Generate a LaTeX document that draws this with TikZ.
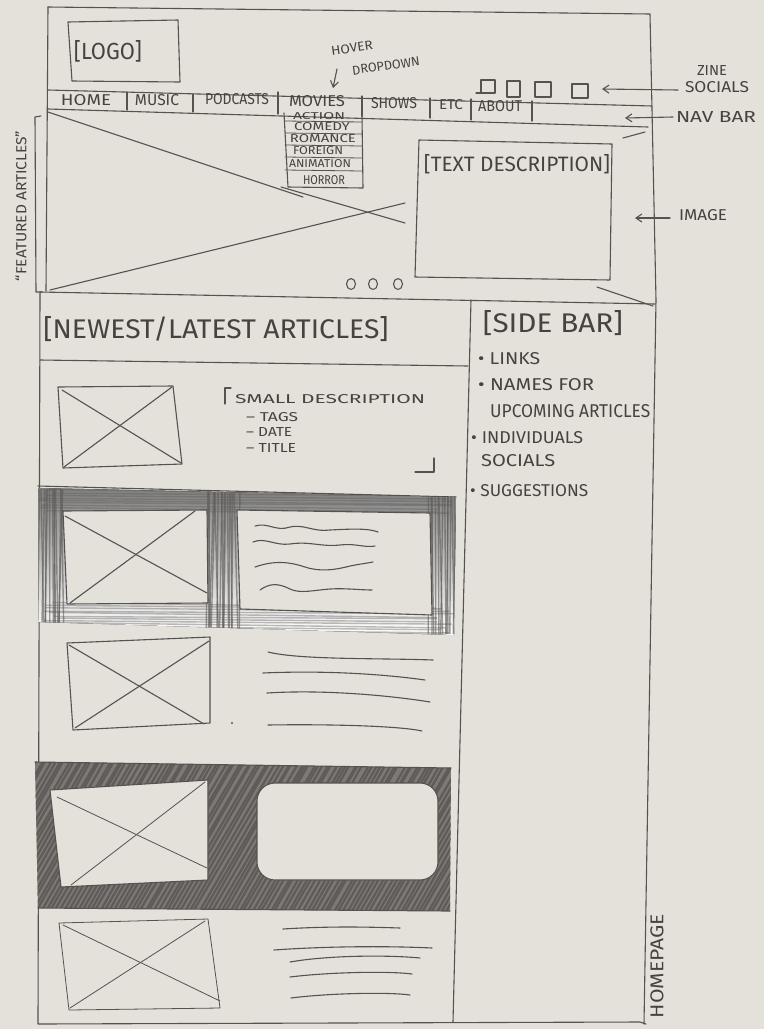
\documentclass[tikz,border=0pt]{standalone}
\usepackage{fontspec}
\setmainfont{Fira Sans}
\usetikzlibrary{arrows.meta}
\definecolor{paper}{HTML}{E4E0DA}
\definecolor{pencil}{HTML}{55524F}
\definecolor{ink}{HTML}{46433F}
\definecolor{shade}{HTML}{827F7B}
\definecolor{shadedark}{HTML}{5E5B58}
% text set to a given width and cap height (in pt)
\newcommand\hw[3]{\resizebox{#1pt}{#2pt}{#3}}
\begin{document}
\begin{tikzpicture}[x=1pt,y=-1pt,
  pen/.style={draw=pencil,line width=1.1pt,line cap=round,line join=round},
  thinpen/.style={draw=pencil,line width=0.8pt,line cap=round,line join=round},
  lbl/.style={inner sep=0pt,text=ink},
  note/.style={pen,-{Straight Barb[length=6pt,width=8pt]}}]
\fill[paper] (0,0) rectangle (764,1029);
\useasboundingbox (0,0) rectangle (764,1029);
\pgfmathsetseed{7}

% ---------- page frame ----------
\draw[pen] (48,7) -- (650,14) -- (656,300) -- (644,1024);
\draw[pen] (48,7) -- (46,291);
\draw[pen] (40,293) -- (38,1024) -- (640,1022) -- (646,1024);

% ---------- header: logo ----------
\draw[pen] (68,22) -- (178,20) -- (180,82) -- (72,81) -- cycle;
\node[lbl] (logo) at (108,51) {\hw{68}{19}{[LOGO]}};

% hover note
\node[lbl,rotate=8] (hover) at (352,48) {\hw{42}{9}{HOVER}};
\node[lbl,rotate=8] (dropdown) at (386,66) {\hw{68}{9}{DROPDOWN}};
\coordinate (hovfrom) at (337,69);
\coordinate (hovtip) at (333,88);
\draw[note] (hovfrom) -- (hovtip);

% social icons
\draw[pen] (476,93) -- (495,93) -- (495,80) -- (481,80) -- (481,93);
\draw[pen] (507,81) rectangle (520,97);
\draw[pen] (535,82) rectangle (551,97);
\draw[pen] (572,84) rectangle (588,98);

% ---------- nav bar ----------
\draw[pen] (48,90) -- (652,106);
\draw[pen] (48,109) -- (648,127);
\foreach \x/\a/\b in {127/92/110,193/94/112,278/92/114,362/96/116,430/98/118,471/99/120,532/101/121}
  \draw[pen] (\x,\a) -- (\x,\b);
\node[lbl] (home) at (86,100) {\hw{50}{11}{HOME}};
\node[lbl] (music) at (157,100) {\hw{44}{11}{MUSIC}};
\node[lbl] (podcasts) at (237,99) {\hw{64}{11}{PODCASTS}};
\node[lbl] (movies) at (317,101) {\hw{56}{11}{MOVIES}};
\node[lbl] (shows) at (394,103) {\hw{46}{11}{SHOWS}};
\node[lbl] (etc) at (451,105) {\hw{24}{10}{ETC}};
\node[lbl] (about) at (500,106) {\hw{44}{11}{ABOUT}};

% dropdown under MOVIES
\draw[pen] (284,113) -- (288,187) -- (363,188) -- (362,116);
\foreach \y in {121,133,145,157,170}
  \draw[thinpen] (285,\y) -- (362,\y+1);
\node[lbl] (dd1) at (319,116) {\hw{52}{7}{ACTION}};
\node[lbl] (dd2) at (322,127) {\hw{56}{8}{COMEDY}};
\node[lbl] (dd3) at (323,139) {\hw{66}{8}{ROMANCE}};
\node[lbl] (dd4) at (318,151) {\hw{50}{8}{FOREIGN}};
\node[lbl] (dd5) at (320,164) {\hw{62}{8}{ANIMATION}};
\node[lbl] (dd6) at (324,180) {\hw{42}{9}{HORROR}};

% ---------- featured hero ----------
\draw[pen] (41,116) -- (35,117) -- (36,292) -- (42,292);
\node[lbl,rotate=90] (featured) at (21,206) {\hw{150}{11}{“FEATURED ARTICLES”}};
\draw[pen] (40,292) -- (655,304);
% placeholder cross, partly hidden behind the text box
\draw[pen] (48,112) -- (303,197);
\draw[pen] (281,187) -- (405,223);
\draw[pen] (597,287) -- (653,306);
\draw[pen] (50,290) -- (405,203);
\draw[pen] (623,138) -- (645,132);
% text description box
\draw[pen] (419,140) -- (612,144) -- (610,280) -- (415,277) -- cycle;
\node[lbl] (textdesc) at (517,164) {\hw{186}{17}{[TEXT DESCRIPTION]}};
% slide dots
\foreach \x in {351,373,398}
  \draw[pen] (\x,284) ellipse [x radius=4.5, y radius=5.5];

% ---------- annotations ----------
\node[lbl] (zine) at (712,70) {\hw{30}{10}{ZINE}};
\node[lbl] (socials) at (717,87) {\hw{64}{11}{SOCIALS}};
\coordinate (sociotip) at (602,89);
\draw[note] (678,90) -- (sociotip);
\node[lbl] (navbar) at (716,117) {\hw{80}{11}{NAV BAR}};
\coordinate (navtip) at (625,118);
\draw[note] (673,117) -- (navtip);
\node[lbl] (image) at (703,215) {\hw{48}{11}{IMAGE}};
\coordinate (imgtip) at (635,218);
\draw[note] (670,218) -- (imgtip);

% ---------- newest articles ----------
\draw[pen] (40,360) -- (468,366);
\node[lbl] (newest) at (216,329) {\hw{345}{22}{[NEWEST/LATEST ARTICLES]}};
% sidebar
\draw[pen] (471,300) -- (453,1022);
\node[lbl] (sidebar) at (553,323) {\hw{140}{22}{[SIDE BAR]}};
\node[lbl,anchor=west] (s1) at (478,359) {\hw{62}{12}{• LINKS}};
\node[lbl,anchor=west] (s2) at (478,385) {\hw{116}{12}{• NAMES FOR}};
\node[lbl,anchor=west] (s2b) at (490,411) {\hw{160}{13}{UPCOMING ARTICLES}};
\node[lbl,anchor=west] (s3) at (471,438) {\hw{112}{12}{• INDIVIDUALS}};
\node[lbl,anchor=west] (s3b) at (481,461) {\hw{74}{12}{SOCIALS}};
\node[lbl,anchor=west] (s4) at (470,491) {\hw{118}{12}{• SUGGESTIONS}};

% article 1
\draw[pen] (58,387) -- (173,386) -- (182,464) -- (63,468) -- cycle;
\draw[pen] (62,390) -- (181,463);
\draw[pen] (64,467) -- (172,387);
\draw[pen] (231,388) -- (225,388) -- (225,404);
\node[lbl,anchor=west] (smalldesc) at (235,399) {\hw{190}{9}{SMALL DESCRIPTION}};
\node[lbl,anchor=west] (tags) at (246,417) {\hw{52}{9}{– TAGS}};
\node[lbl,anchor=west] (date) at (246,432) {\hw{46}{9}{– DATE}};
\node[lbl,anchor=west] (title) at (246,448) {\hw{50}{9}{– TITLE}};
\draw[pen] (415,472) -- (434,472) -- (434,458);
\draw[pen] (38,486) -- (456,497);

% article 2: heavily shaded frame
\fill[shade] (38,488) -- (456,497) -- (454,635) -- (38,622) -- cycle;
\begin{scope}
  \clip (38,488) -- (456,497) -- (454,635) -- (38,622) -- cycle;
  \foreach \x in {39,41,...,63,206,208,...,238,430,432,...,456}
    \draw[shadedark,line width=1.4pt,opacity=0.6] (\x+2*rand,489) -- (\x+3*rand,634);
  \foreach \y in {490,492.5,...,510,603,605.5,...,634}
    \draw[shadedark,line width=1.4pt,opacity=0.4] (38+20*rnd,\y+rand) -- (455-20*rnd,\y+4+rand);
\end{scope}
\fill[paper] (63,511) -- (207,510) -- (208,603) -- (67,604) -- cycle;
\draw[pen] (63,511) -- (207,510) -- (208,603) -- (67,604) -- cycle;
\draw[pen] (65,516) -- (207,593);
\draw[pen] (70,603) -- (195,511);
\fill[paper] (237,510) -- (430,513) -- (432,615) -- (240,609) -- cycle;
\draw[pen] (237,510) -- (430,513) -- (432,615) -- (240,609) -- cycle;
\draw[pen] (255,526) .. controls (268,522) and (276,532) .. (290,527)
  .. controls (305,524) and (312,532) .. (330,530) .. controls (350,529) and (368,528) .. (378,532);
\draw[pen] (253,542) .. controls (265,537) and (275,546) .. (290,544)
  .. controls (310,541) and (320,547) .. (340,545) .. controls (355,543) and (365,548) .. (375,546);
\draw[pen] (255,567) .. controls (275,560) and (290,562) .. (305,567)
  .. controls (320,572) and (335,570) .. (350,566) .. controls (360,564) and (368,563) .. (373,562);
\draw[pen] (260,590) .. controls (270,583) and (278,583) .. (290,589)
  .. controls (300,594) and (315,590) .. (330,589) .. controls (345,588) and (360,590) .. (372,590);

% article 3
\draw[pen] (67,643) -- (210,637) -- (210,723) -- (73,730) -- cycle;
\draw[pen] (69,645) -- (204,724);
\draw[pen] (75,728) -- (209,641);
\fill[pencil] (232,723) circle (1.2);
\draw[pen] (268,652) .. controls (300,660) and (380,658) .. (433,660);
\draw[pen] (263,673) .. controls (330,670) and (390,675) .. (425,680);
\draw[pen] (267,693) .. controls (330,689) and (400,697) .. (430,702);
\draw[pen] (268,725) .. controls (330,724) and (400,726) .. (422,731);

% article 4: hatched frame
\fill[shade!85!shadedark] (35,762) -- (451,768) -- (450,911) -- (38,908) -- cycle;
\begin{scope}
  \clip (35,762) -- (451,768) -- (450,911) -- (38,908) -- cycle;
  \foreach \x in {-100,-95.5,...,470}
    \draw[shadedark,line width=2.2pt] (\x+rand,914) -- (\x+90+2*rand,758);
\end{scope}
\draw[pen] (35,762) -- (451,768);
\draw[pen] (38,908) -- (450,911);
\fill[paper] (50,790) -- (208,780) -- (208,880) -- (61,887) -- cycle;
\draw[pen] (50,790) -- (208,780) -- (208,880) -- (61,887) -- cycle;
\draw[thinpen] (57,797) -- (207,868);
\draw[thinpen] (71,885) -- (205,782);
\fill[paper,rounded corners=18pt] (257,783) rectangle (438,880);
\draw[pen,rounded corners=18pt] (257,783) rectangle (438,880);

% article 5
\draw[thinpen] (59,923) -- (208,919) -- (220,1008) -- (69,1010) -- cycle;
\draw[thinpen] (63,925) -- (220,1001);
\draw[thinpen] (70,1008) -- (205,921);
\draw[pen] (283,929) .. controls (330,926) and (370,927) .. (400,928);
\draw[pen] (274,950) .. controls (330,946) and (390,946) .. (432,948);
\draw[pen] (290,962) .. controls (330,955) and (390,955) .. (420,958);
\draw[pen] (290,977) .. controls (330,972) and (390,971) .. (412,974);
\draw[pen] (291,998) .. controls (330,993) and (390,992) .. (410,995);

\node[lbl,rotate=90] (homepage) at (657,966) {\hw{104}{13}{HOMEPAGE}};
\end{tikzpicture}
\end{document}
